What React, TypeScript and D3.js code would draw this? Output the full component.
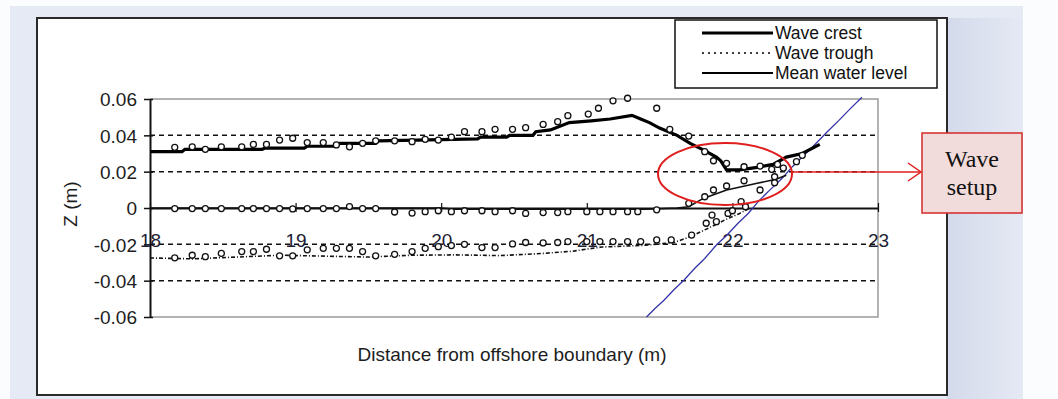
import React, { useEffect, useRef } from "react";
import * as d3 from "d3";

// x (m), z (m)
const crestModel: [number, number][] = [
  [18.0, 0.031], [18.22, 0.031], [18.24, 0.0323], [18.77, 0.0323], [18.79, 0.033],
  [19.06, 0.033], [19.08, 0.034], [19.28, 0.034], [19.3, 0.0356], [19.55, 0.0356],
  [19.57, 0.037], [20.0, 0.0376], [20.25, 0.038], [20.27, 0.039], [20.45, 0.039],
  [20.47, 0.04], [20.63, 0.04], [20.65, 0.042], [20.75, 0.043], [20.88, 0.047],
  [21.03, 0.048], [21.16, 0.049], [21.31, 0.051], [21.37, 0.049], [21.43, 0.047],
  [21.5, 0.044], [21.62, 0.04], [21.71, 0.0356], [21.8, 0.032], [21.89, 0.028],
  [21.92, 0.026], [21.96, 0.021], [22.05, 0.021], [22.17, 0.0224], [22.28, 0.024],
  [22.37, 0.028], [22.48, 0.03], [22.6, 0.035],
];

const troughModel: [number, number][] = [
  [18.0, -0.0275], [18.3, -0.028], [18.6, -0.027], [18.9, -0.026], [19.2, -0.0265],
  [19.5, -0.027], [19.8, -0.026], [20.1, -0.0258], [20.4, -0.0262], [20.7, -0.025],
  [20.9, -0.0238], [21.1, -0.0215], [21.4, -0.0205], [21.6, -0.019], [21.72, -0.0155],
  [21.85, -0.0105], [21.95, -0.0065], [22.05, -0.003], [22.12, 0.0],
];

const mwlModel: [number, number][] = [
  [18.0, 0.0], [20.0, 0.0], [20.1, -0.0007], [21.4, -0.0007], [21.62, 0.0],
  [21.7, 0.0007], [21.8, 0.0053], [21.96, 0.0099], [22.17, 0.0136], [22.3, 0.0158],
  [22.37, 0.018],
];

const crestMeasured: [number, number][] = [
  [18.17, 0.0334], [18.29, 0.0337], [18.38, 0.0323], [18.49, 0.0337], [18.63, 0.0337],
  [18.71, 0.035], [18.8, 0.035], [18.89, 0.0374], [18.98, 0.0384], [19.08, 0.036],
  [19.19, 0.036], [19.28, 0.0347], [19.37, 0.0337], [19.46, 0.0356], [19.55, 0.037],
  [19.68, 0.037], [19.8, 0.0365], [19.89, 0.0378], [19.98, 0.0374], [20.07, 0.039],
  [20.16, 0.042], [20.28, 0.042], [20.37, 0.0433], [20.49, 0.0433], [20.58, 0.0442],
  [20.7, 0.046], [20.8, 0.0475], [20.87, 0.0508], [21.01, 0.0517], [21.08, 0.0549],
  [21.18, 0.059], [21.28, 0.0604], [21.48, 0.0549], [21.57, 0.0433], [21.7, 0.0396],
  [21.81, 0.031], [21.87, 0.026], [21.96, 0.0246], [22.08, 0.0227], [22.19, 0.0231],
  [22.27, 0.0213], [22.31, 0.024], [22.35, 0.022], [22.44, 0.0255], [22.48, 0.029],
];

const mwlMeasured: [number, number][] = [
  [18.17, -0.0003], [18.29, -0.0003], [18.38, -0.0003], [18.49, -0.0003], [18.63, -0.0003],
  [18.71, -0.0003], [18.8, -0.0003], [18.89, -0.0003], [18.98, -0.0005], [19.08, -0.0003],
  [19.19, -0.0003], [19.28, -0.0003], [19.37, 0.0008], [19.46, -0.0003], [19.55, -0.0003],
  [19.68, -0.0022], [19.8, -0.0028], [19.89, -0.002], [19.98, -0.0015], [20.07, -0.002],
  [20.16, -0.0015], [20.28, -0.0015], [20.37, -0.002], [20.49, -0.0015], [20.58, -0.003],
  [20.7, -0.0025], [20.8, -0.0025], [20.87, -0.002], [21.0, -0.002], [21.09, -0.002],
  [21.18, -0.002], [21.28, -0.002], [21.35, -0.002], [21.48, -0.001], [21.7, 0.0026],
  [21.81, 0.0062], [21.87, 0.0099], [21.96, 0.0121], [22.08, 0.015], [22.29, 0.0172],
];

const troughMeasured: [number, number][] = [
  [18.17, -0.0274], [18.29, -0.026], [18.38, -0.0268], [18.49, -0.025], [18.63, -0.024],
  [18.71, -0.024], [18.8, -0.0227], [18.89, -0.0263], [18.98, -0.0263], [19.08, -0.023],
  [19.19, -0.0222], [19.28, -0.0222], [19.37, -0.0222], [19.46, -0.024], [19.55, -0.0263],
  [19.68, -0.0255], [19.8, -0.024], [19.89, -0.0222], [19.98, -0.0213], [20.07, -0.0207],
  [20.16, -0.02], [20.28, -0.0218], [20.37, -0.0218], [20.49, -0.0198], [20.58, -0.019],
  [20.7, -0.0192], [20.8, -0.019], [20.87, -0.0185], [21.0, -0.0185], [21.09, -0.0185],
  [21.18, -0.0185], [21.28, -0.0185], [21.37, -0.0185], [21.48, -0.0176], [21.58, -0.0176],
  [21.72, -0.0149], [21.82, -0.0084], [21.89, -0.0075], [21.86, -0.0039], [21.97, -0.003],
  [22.0, -0.0015], [22.06, 0.0035], [22.09, 0.0007], [22.19, 0.0099], [22.29, 0.0139],
];

const bedProfile: [number, number][] = [
  [21.41, -0.06], [21.47, -0.0552], [21.53, -0.0508], [21.6, -0.0449], [21.67, -0.0395],
  [21.74, -0.0333], [21.81, -0.0278], [21.89, -0.0204], [21.96, -0.0151], [22.04, -0.0083],
  [22.11, -0.0029], [22.18, 0.0038], [22.26, 0.0101], [22.34, 0.0162], [22.41, 0.0226],
  [22.49, 0.0289], [22.57, 0.0352], [22.65, 0.0418], [22.73, 0.0481], [22.81, 0.0547],
  [22.89, 0.061],
];

const xTicks = [18, 19, 20, 21, 22, 23];
const yTicks = [-0.06, -0.04, -0.02, 0, 0.02, 0.04, 0.06];
const legendLabels = ["Wave crest", "Wave trough", "Mean water level"];

const App = () => {
  const chartRef = useRef<SVGSVGElement | null>(null);

  useEffect(() => {
    const width = 1058;
    const height = 399;
    const sans = "'Liberation Sans', Arial, sans-serif";

    const svg = d3.select(chartRef.current);
    svg.selectAll("*").remove();
    svg.attr("width", width).attr("height", height);

    // slide background
    const defs = svg.append("defs");
    const grad = defs.append("linearGradient").attr("id", "shade").attr("x1", 0).attr("x2", 1);
    grad.append("stop").attr("offset", 0).attr("stop-color", "#d3daea");
    grad.append("stop").attr("offset", 1).attr("stop-color", "#e5e9f4");

    svg.append("rect").attr("width", width).attr("height", height).attr("fill", "#fbfcfe");
    svg.append("rect").attr("x", 10).attr("y", 6).attr("width", 1013).attr("height", 393).attr("fill", "#e6eaf5");
    svg.append("rect").attr("x", 947).attr("y", 18).attr("width", 76).attr("height", 381).attr("fill", "url(#shade)");
    svg.append("rect").attr("x", 37).attr("y", 18).attr("width", 910).attr("height", 377)
      .attr("fill", "#fff").attr("stroke", "#2a2a2a").attr("stroke-width", 2);

    const x = d3.scaleLinear().domain([18, 23]).range([150, 878]);
    const y = d3.scaleLinear().domain([-0.06, 0.06]).range([317, 99]);

    // grid lines
    svg.append("g")
      .selectAll("line")
      .data(yTicks.filter((d) => d !== 0 && Math.abs(d) < 0.06))
      .join("line")
      .attr("x1", x(18)).attr("x2", x(23))
      .attr("y1", (d) => y(d)).attr("y2", (d) => y(d))
      .attr("stroke", "#111").attr("stroke-width", 1.5).attr("stroke-dasharray", "5,4");

    // plot frame
    svg.append("path")
      .attr("d", `M${x(18)},${y(0.06)}H${x(23)}V${y(-0.06)}H${x(18)}`)
      .attr("fill", "none").attr("stroke", "#9a9a9a").attr("stroke-width", 1.5);

    // y axis
    const yAxis = svg.append("g").attr("transform", `translate(${x(18)},0)`)
      .call(d3.axisLeft(y).tickValues(yTicks).tickSize(5).tickSizeOuter(0)
        .tickFormat((d) => (d === 0 ? "0" : d3.format(".2f")(d as number).replace("\u2212", "-"))));
    yAxis.select(".domain").attr("stroke", "#111").attr("stroke-width", 2);
    yAxis.selectAll(".tick line").attr("stroke", "#111").attr("stroke-width", 1.5).attr("x2", -6).attr("x1", 3);
    yAxis.selectAll("text").attr("x", -13).attr("dy", "0.36em")
      .attr("font-size", 19).attr("font-family", sans).attr("fill", "#1d1d22");

    // x axis at z = 0
    const xAxis = svg.append("g").attr("transform", `translate(0,${y(0)})`)
      .call(d3.axisBottom(x).tickValues(xTicks).tickSize(4).tickSizeOuter(0).tickFormat(d3.format("d")));
    xAxis.select(".domain").attr("stroke", "#111").attr("stroke-width", 2);
    xAxis.selectAll(".tick line").attr("stroke", "#111").attr("stroke-width", 1.2).attr("y1", -5).attr("y2", 4);
    xAxis.selectAll("text").attr("y", 39).attr("dy", 0)
      .attr("font-size", 19).attr("font-family", sans).attr("fill", "#1d1d33");

    // axis titles
    svg.append("text").attr("x", 512).attr("y", 361).attr("text-anchor", "middle")
      .attr("font-size", 19).attr("font-family", sans).attr("fill", "#1d1d1d")
      .text("Distance from offshore boundary (m)");
    svg.append("text").attr("transform", "translate(77,204) rotate(-90)").attr("text-anchor", "middle")
      .attr("font-size", 19).attr("font-family", sans).attr("fill", "#1d1d1d")
      .text("Z (m)");

    const line = d3.line<[number, number]>().x((d) => x(d[0])).y((d) => y(d[1]));

    // bed profile
    svg.append("path").datum(bedProfile).attr("d", line)
      .attr("fill", "none").attr("stroke", "#3434a8").attr("stroke-width", 1.3);

    // model lines
    svg.append("path").datum(troughModel).attr("d", line)
      .attr("fill", "none").attr("stroke", "#111").attr("stroke-width", 1.6).attr("stroke-dasharray", "4,2,1,2");
    svg.append("path").datum(mwlModel).attr("d", line)
      .attr("fill", "none").attr("stroke", "#111").attr("stroke-width", 1.6);
    svg.append("path").datum(crestModel).attr("d", line)
      .attr("fill", "none").attr("stroke", "#000").attr("stroke-width", 3.2);

    // measurements
    [crestMeasured, mwlMeasured, troughMeasured].forEach((set) => {
      svg.append("g").selectAll("circle").data(set).join("circle")
        .attr("cx", (d) => x(d[0])).attr("cy", (d) => y(d[1])).attr("r", 3)
        .attr("fill", "#fff").attr("stroke", "#111").attr("stroke-width", 1.3);
    });

    // legend
    const legend = svg.append("g");
    legend.append("rect").attr("x", 675).attr("y", 20).attr("width", 262).attr("height", 68)
      .attr("fill", "#fff").attr("stroke", "#111").attr("stroke-width", 1.5);
    const legendStyles = [
      { w: 3, dash: null },
      { w: 1.5, dash: "2,4" },
      { w: 1.8, dash: null },
    ];
    legendLabels.forEach((label, i) => {
      const ly = 33 + i * 20;
      legend.append("line").attr("x1", 702).attr("x2", 773).attr("y1", ly).attr("y2", ly)
        .attr("stroke", "#000").attr("stroke-width", legendStyles[i].w)
        .attr("stroke-dasharray", legendStyles[i].dash);
      legend.append("text").attr("x", 775).attr("y", ly + 6)
        .attr("font-size", 17.5).attr("font-family", sans).attr("fill", "#111").text(label);
    });

    // annotation
    const red = "#e01e1e";
    svg.append("ellipse").attr("cx", 725).attr("cy", 174).attr("rx", 67).attr("ry", 31)
      .attr("fill", "none").attr("stroke", red).attr("stroke-width", 2);
    svg.append("line").attr("x1", 792).attr("x2", 921).attr("y1", 172).attr("y2", 172)
      .attr("stroke", red).attr("stroke-width", 1.5);
    svg.append("path").attr("d", "M908,163 L921,172 L908,181")
      .attr("fill", "none").attr("stroke", red).attr("stroke-width", 1.5);
    svg.append("rect").attr("x", 922).attr("y", 133).attr("width", 100).attr("height", 80)
      .attr("fill", "#f2dcdb").attr("stroke", "#d42a2a").attr("stroke-width", 1.5);
    ["Wave", "setup"].forEach((t, i) => {
      svg.append("text").attr("x", 972).attr("y", 167 + i * 28).attr("text-anchor", "middle")
        .attr("font-size", 24).attr("font-family", "'Liberation Serif', 'Times New Roman', serif")
        .attr("fill", "#111").text(t);
    });
  }, []);

  return (
    <div style={{ position: "absolute", left: 0, top: 0 }}>
      <svg ref={chartRef} style={{ display: "block" }}></svg>
    </div>
  );
};

export default App;
